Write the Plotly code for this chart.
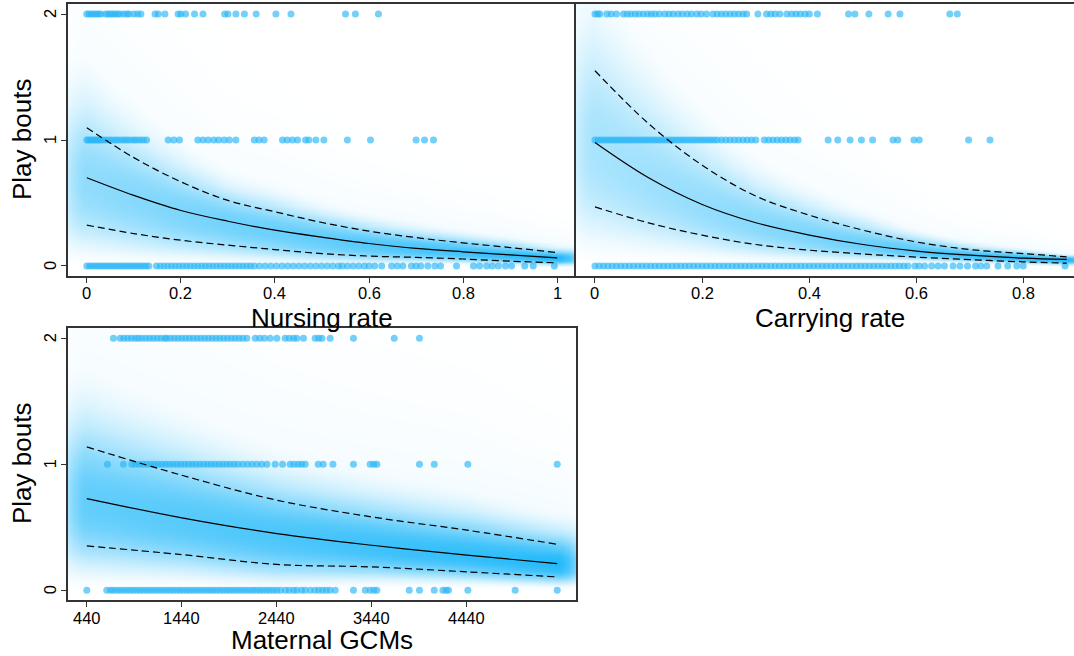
import numpy as np
import plotly.graph_objects as go

# ---------------- data ----------------
# Panel 1: Nursing rate
nurs_curve_x = [0.0, 0.1, 0.2, 0.3, 0.4, 0.5, 0.6, 0.7, 0.8, 0.9, 1.0]
nurs_mean = [0.70, 0.56, 0.44, 0.355, 0.284, 0.228, 0.178, 0.14, 0.112, 0.087, 0.064]
nurs_upper = [1.097, 0.86, 0.668, 0.52, 0.43, 0.345, 0.276, 0.225, 0.183, 0.146, 0.106]
nurs_lower = [0.324, 0.257, 0.204, 0.165, 0.13, 0.098, 0.078, 0.068, 0.055, 0.038, 0.024]

nurs_pts_y2 = [0.0, 0.005, 0.01, 0.015, 0.02, 0.025, 0.03, 0.04, 0.045, 0.05, 0.055, 0.06,
               0.065, 0.07, 0.078, 0.085, 0.09, 0.1, 0.108, 0.115, 0.145, 0.152, 0.166,
               0.194, 0.2, 0.21, 0.229, 0.247, 0.293, 0.3, 0.317, 0.335, 0.36, 0.402,
               0.434, 0.55, 0.571, 0.62]
nurs_pts_y1 = [0.0, 0.004, 0.008, 0.012, 0.016, 0.02, 0.024, 0.028, 0.034, 0.04, 0.047,
               0.053, 0.06, 0.066, 0.073, 0.08, 0.086, 0.093, 0.1, 0.106, 0.113, 0.12,
               0.127, 0.173, 0.185, 0.197, 0.236, 0.247, 0.258, 0.27, 0.28, 0.292, 0.303,
               0.317, 0.356, 0.366, 0.377, 0.416, 0.426, 0.437, 0.448, 0.465, 0.472,
               0.487, 0.504, 0.554, 0.603, 0.70, 0.718, 0.737]
nurs_pts_y0 = [0.0, 0.006, 0.012, 0.018, 0.024, 0.03, 0.036, 0.042, 0.048, 0.054, 0.06,
               0.066, 0.072, 0.078, 0.084, 0.09, 0.096, 0.102, 0.108, 0.114, 0.12, 0.126,
               0.132, 0.148, 0.156, 0.164, 0.172, 0.18, 0.188, 0.196, 0.204, 0.212, 0.22,
               0.228, 0.236, 0.244, 0.252, 0.26, 0.268, 0.276, 0.284, 0.292, 0.3, 0.308,
               0.316, 0.324, 0.332, 0.34, 0.348, 0.356, 0.367, 0.379, 0.391, 0.403, 0.415,
               0.427, 0.439, 0.451, 0.463, 0.475, 0.487, 0.499, 0.511, 0.523, 0.535,
               0.543, 0.554, 0.566, 0.578, 0.59, 0.6, 0.612, 0.627, 0.648, 0.66, 0.672,
               0.69, 0.70, 0.71, 0.725, 0.74, 0.752, 0.786, 0.822, 0.835, 0.85, 0.862,
               0.875, 0.89, 0.903, 0.931, 0.949, 0.994]
nurs_ticks = [0, 0.2, 0.4, 0.6, 0.8, 1]
nurs_ticktext = ["0", "0.2", "0.4", "0.6", "0.8", "1"]

# Panel 2: Carrying rate
carr_curve_x = [0.0, 0.1, 0.2, 0.3, 0.4, 0.5, 0.6, 0.7, 0.8, 0.88]
carr_mean = [0.98, 0.70, 0.488, 0.343, 0.245, 0.17, 0.118, 0.085, 0.062, 0.052]
carr_upper = [1.55, 1.13, 0.80, 0.555, 0.403, 0.284, 0.19, 0.13, 0.098, 0.072]
carr_lower = [0.469, 0.342, 0.244, 0.17, 0.125, 0.095, 0.07, 0.05, 0.032, 0.022]

carr_pts_y2 = [0.0, 0.005, 0.009, 0.022, 0.03, 0.04, 0.053, 0.06, 0.067, 0.075, 0.082,
               0.09, 0.098, 0.105, 0.112, 0.12, 0.13, 0.138, 0.146, 0.155, 0.163, 0.172,
               0.18, 0.19, 0.198, 0.208, 0.22, 0.228, 0.236, 0.244, 0.252, 0.26, 0.268,
               0.276, 0.283, 0.304, 0.32, 0.328, 0.336, 0.345, 0.358, 0.367, 0.375,
               0.383, 0.392, 0.40, 0.415, 0.473, 0.485, 0.511, 0.547, 0.569, 0.662, 0.676]
carr_pts_y1 = [0.0, 0.006, 0.012, 0.018, 0.024, 0.03, 0.036, 0.042, 0.048, 0.054, 0.06,
               0.066, 0.072, 0.078, 0.084, 0.09, 0.096, 0.102, 0.108, 0.114, 0.12, 0.126,
               0.132, 0.138, 0.144, 0.15, 0.156, 0.162, 0.168, 0.174, 0.18, 0.186, 0.192,
               0.198, 0.204, 0.21, 0.216, 0.222, 0.228, 0.236, 0.244, 0.252, 0.26, 0.268,
               0.276, 0.284, 0.292, 0.3, 0.316, 0.324, 0.332, 0.34, 0.348, 0.356, 0.364,
               0.372, 0.379, 0.435, 0.453, 0.476, 0.497, 0.518, 0.556, 0.565, 0.595,
               0.605, 0.697, 0.737]
carr_pts_y0 = [0.0, 0.008, 0.016, 0.024, 0.032, 0.04, 0.048, 0.056, 0.064, 0.072, 0.08,
               0.088, 0.096, 0.104, 0.112, 0.12, 0.128, 0.136, 0.144, 0.152, 0.16, 0.168,
               0.176, 0.184, 0.192, 0.2, 0.208, 0.216, 0.224, 0.232, 0.24, 0.248, 0.256,
               0.264, 0.272, 0.28, 0.288, 0.296, 0.304, 0.312, 0.32, 0.328, 0.336, 0.344,
               0.352, 0.36, 0.368, 0.376, 0.384, 0.392, 0.4, 0.408, 0.416, 0.424, 0.432,
               0.44, 0.448, 0.456, 0.464, 0.472, 0.48, 0.488, 0.496, 0.504, 0.512, 0.52,
               0.528, 0.536, 0.544, 0.552, 0.56, 0.568, 0.576, 0.584, 0.597, 0.605,
               0.615, 0.628, 0.64, 0.652, 0.668, 0.681, 0.695, 0.71, 0.72, 0.731, 0.752,
               0.77, 0.787, 0.799, 0.877]
carr_ticks = [0, 0.2, 0.4, 0.6, 0.8]
carr_ticktext = ["0", "0.2", "0.4", "0.6", "0.8"]

# Panel 3: Maternal GCMs
gcm_curve_x = [440, 1440, 2440, 3440, 4440, 5390]
gcm_mean = [0.728, 0.575, 0.45, 0.357, 0.278, 0.212]
gcm_upper = [1.138, 0.913, 0.715, 0.582, 0.477, 0.365]
gcm_lower = [0.352, 0.283, 0.205, 0.185, 0.146, 0.106]

gcm_pts_y2 = [720, 791, 830, 870, 910, 950, 983, 1019, 1060, 1100, 1140, 1180, 1220, 1260,
              1282, 1320, 1360, 1400, 1440, 1480, 1520, 1560, 1600, 1640, 1680, 1720, 1760,
              1800, 1840, 1880, 1920, 1960, 2000, 2040, 2080, 2124, 2212, 2260, 2310, 2370,
              2440, 2527, 2570, 2615, 2650, 2720, 2843, 2880, 2914, 3001, 3246, 3675, 3941]
gcm_pts_y1 = [657, 825, 913, 950, 990, 1030, 1070, 1110, 1150, 1190, 1230, 1270, 1310,
              1350, 1390, 1430, 1470, 1510, 1550, 1590, 1630, 1670, 1710, 1750, 1790, 1830,
              1870, 1910, 1948, 1990, 2030, 2080, 2130, 2180, 2230, 2280, 2335, 2422, 2500,
              2580, 2620, 2664, 2700, 2738, 2875, 2928, 3030, 3246, 3422, 3460, 3492, 3941,
              4096, 4450, 5390]
gcm_pts_y0 = [440, 650, 690, 720, 756, 791, 826, 861, 896, 931, 966, 1001, 1036, 1071,
              1106, 1141, 1176, 1211, 1246, 1281, 1316, 1351, 1386, 1421, 1456, 1491, 1526,
              1561, 1596, 1631, 1666, 1701, 1736, 1771, 1806, 1841, 1876, 1911, 1946, 1981,
              2016, 2051, 2086, 2121, 2156, 2191, 2226, 2261, 2296, 2331, 2366, 2404, 2440,
              2480, 2530, 2570, 2615, 2650, 2700, 2738, 2791, 2840, 2880, 2920, 2960, 3000,
              3054, 3246, 3370, 3420, 3460, 3492, 3833, 3941, 4096, 4187, 4220, 4246, 4450,
              4948, 5390]
gcm_ticks = [440, 1440, 2440, 3440, 4440]
gcm_ticktext = ["440", "1440", "2440", "3440", "4440"]

y_ticks = [0, 1, 2]
y_ticktext = ["0", "1", "2"]

# ---------------- layout geometry ----------------
W, H = 1074, 656
def px_x(p):
    return p / W
def px_y(p):
    return 1 - p / H

BLUE_PT = "rgba(41,182,246,0.65)"
FONT = "Liberation Sans, Arial, sans-serif"

fig = go.Figure()


def shade(xr, cx, mean, lo, hi, xa, ya, fade_w):
    xs = np.linspace(xr[0], xr[1], 240)
    ys = np.linspace(-0.08, 2.08, 260)
    m = np.exp(np.interp(xs, cx, np.log(mean)))
    l = np.exp(np.interp(xs, cx, np.log(lo)))
    h = np.exp(np.interp(xs, cx, np.log(hi)))
    tm, tl, th = np.sqrt(m), np.sqrt(l), np.sqrt(h)
    t = np.sqrt(np.maximum(ys, 0.0))[:, None]
    above = t >= tm[None, :]
    u = np.where(~above, (tm[None, :] - t) / (tm - tl)[None, :],
                 (t - tm[None, :]) / (th - tm)[None, :])
    prof = np.exp(-0.45 * u ** 2.3)
    halo = np.where(above, 0.09 * np.exp(-0.5 * (u / 2.2) ** 2), 0.0)
    prof = np.maximum(prof, halo)
    w = h - l
    amp = (w.min() / w) ** 0.3
    fade = np.ones_like(xs)
    left, right = cx[0], cx[-1]
    fade = np.where(xs < left, np.exp(-0.5 * ((xs - left) / fade_w) ** 2), fade)
    fade = np.where(xs > right, np.exp(-0.5 * ((xs - right) / fade_w) ** 2), fade)
    z = prof * (amp * fade)[None, :]
    fig.add_trace(go.Heatmap(x=xs, y=ys, z=z, zmin=0, zmax=1, zsmooth="best",
                             colorscale=[[0, "rgb(255,255,255)"], [1, "rgb(36,186,250)"]],
                             showscale=False, hoverinfo="skip", xaxis=xa, yaxis=ya))


def panel(xr, cx, mean, lo, hi, p2, p1, p0, xa, ya, fade_w):
    shade(xr, cx, mean, lo, hi, xa, ya, fade_w)
    for pts, yv in ((p2, 2), (p1, 1), (p0, 0)):
        fig.add_trace(go.Scatter(x=pts, y=[yv] * len(pts), mode="markers",
                                 marker=dict(size=7, color=BLUE_PT, line=dict(width=0)),
                                 hoverinfo="skip", xaxis=xa, yaxis=ya, showlegend=False))
    for arr in (hi, lo):
        fig.add_trace(go.Scatter(x=cx, y=arr, mode="lines",
                                 line=dict(color="black", width=1.2, dash="7px,4px", shape="spline"),
                                 xaxis=xa, yaxis=ya, showlegend=False, hoverinfo="skip"))
    fig.add_trace(go.Scatter(x=cx, y=mean, mode="lines", line=dict(color="black", width=1.2, shape="spline"),
                             xaxis=xa, yaxis=ya, showlegend=False, hoverinfo="skip"))


R1 = [-0.04, 1.04]
R2 = [-0.0354, 0.8937]
R3 = [242, 5588]

panel(R1, nurs_curve_x, nurs_mean, nurs_lower, nurs_upper, nurs_pts_y2, nurs_pts_y1, nurs_pts_y0, "x", "y", 0.04)
panel(R2, carr_curve_x, carr_mean, carr_lower, carr_upper, carr_pts_y2, carr_pts_y1, carr_pts_y0, "x2", "y2", 0.035)
panel(R3, gcm_curve_x, gcm_mean, gcm_lower, gcm_upper, gcm_pts_y2, gcm_pts_y1, gcm_pts_y0, "x3", "y3", 200)

axis_common = dict(showgrid=False, zeroline=False, showline=True, linecolor="#333333", linewidth=1.5,
                   ticks="outside", ticklen=5, tickwidth=1, tickcolor="#333333", showticklabels=False)

ydom_top = [px_y(276), px_y(4)]
ydom_bot = [px_y(600.3), px_y(328.3)]

fig.update_layout(
    width=W, height=H, margin=dict(l=0, r=0, t=0, b=0),
    paper_bgcolor="white", plot_bgcolor="white", showlegend=False,
    xaxis=dict(domain=[px_x(68), px_x(576)], range=R1, anchor="y", mirror=True,
               tickvals=nurs_ticks, **axis_common),
    yaxis=dict(domain=ydom_top, range=[-0.08, 2.08], anchor="x", mirror=True,
               tickvals=y_ticks, **axis_common),
    xaxis2=dict(domain=[px_x(576), 1.0], range=R2, anchor="y2", mirror=True,
                tickvals=carr_ticks, **axis_common),
    yaxis2=dict(domain=ydom_top, range=[-0.08, 2.08], anchor="x2", showgrid=False, zeroline=False,
                showline=True, linecolor="#333333", linewidth=1.5, mirror=False, showticklabels=False, ticks=""),
    xaxis3=dict(domain=[px_x(68), px_x(576)], range=R3, anchor="y3", mirror=True,
                tickvals=gcm_ticks, **axis_common),
    yaxis3=dict(domain=ydom_bot, range=[-0.08, 2.08], anchor="x3", mirror=True,
                tickvals=y_ticks, **axis_common),
)

# tick labels (placed through the axes' own data coordinates)
tick_font = dict(family=FONT, size=16.5, color="black")
for vals, texts, xref, ypx in ((nurs_ticks, nurs_ticktext, "x", 293),
                               (carr_ticks, carr_ticktext, "x2", 293),
                               (gcm_ticks, gcm_ticktext, "x3", 617.5)):
    for v, t in zip(vals, texts):
        fig.add_annotation(x=v, xref=xref, y=px_y(ypx), yref="paper", text=t, showarrow=False,
                           xanchor="center", yanchor="middle", font=tick_font)
for yref in ("y", "y3"):
    for v, t in zip(y_ticks, y_ticktext):
        fig.add_annotation(x=px_x(50), xref="paper", y=v, yref=yref, text=t, showarrow=False,
                           textangle=-90, xanchor="center", yanchor="middle", font=tick_font)

title_font = dict(family=FONT, size=26, color="black")
ann = [
    dict(text="Nursing rate", x=px_x(322), y=px_y(318)),
    dict(text="Carrying rate", x=px_x(830), y=px_y(318)),
    dict(text="Maternal GCMs", x=px_x(322), y=px_y(640)),
    dict(text="Play bouts", x=px_x(22), y=px_y(140), textangle=-90),
    dict(text="Play bouts", x=px_x(22), y=px_y(464), textangle=-90),
]
for a in ann:
    fig.add_annotation(xref="paper", yref="paper", showarrow=False, xanchor="center", yanchor="middle",
                       font=title_font, **a)

fig.write_html("out.html")
